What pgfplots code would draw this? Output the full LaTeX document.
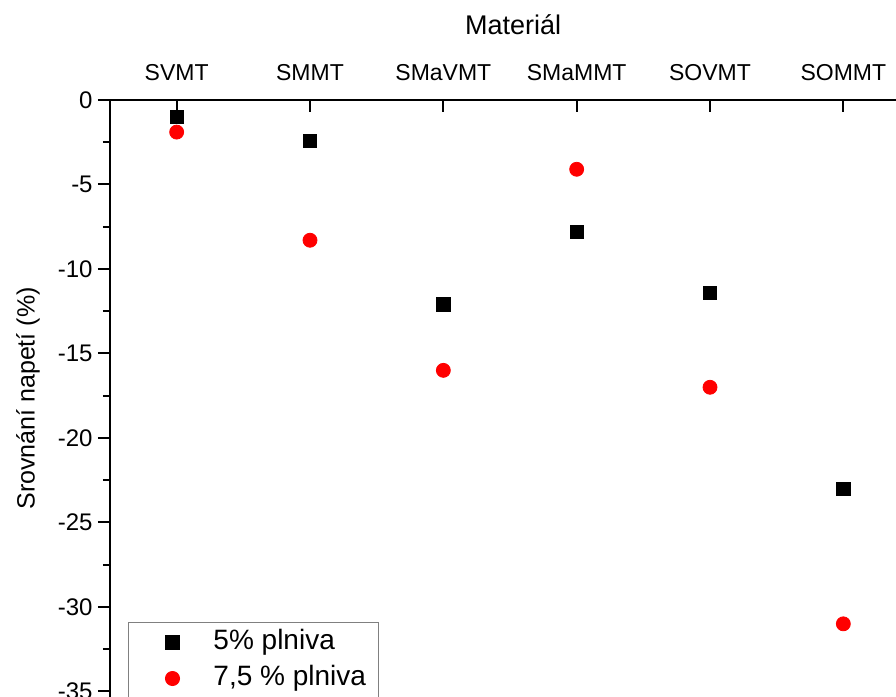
\documentclass[border=0pt]{standalone}
\usepackage{pgfplots}
\pgfplotsset{compat=1.18}
\usepackage{fontspec}
\setmainfont{Liberation Sans}
\begin{document}
\begin{tikzpicture}
\useasboundingbox (-55pt,0pt) rectangle (393pt,348.5pt);
\clip (-55pt,0pt) rectangle (393pt,348.5pt);
\begin{axis}[
  at={(0pt,0pt)}, anchor=south west,
  scale only axis, width=393pt, height=298.5pt,
  xmin=0.5, xmax=6.395, ymin=-35.33, ymax=0,
  axis x line=top, axis y line=left,
  axis line style={-, line width=1pt, black},
  tick align=outside,
  major tick length=6pt, minor tick length=3.5pt,
  every tick/.style={black, line width=1pt},
  x tick style={yshift=-6pt},
  xtick={1,2,3,4,5,6},
  xticklabels={SVMT,SMMT,SMaVMT,SMaMMT,SOVMT,SOMMT},
  xticklabel style={font=\fontsize{11.5}{13}\selectfont},
  ytick={-35,-30,-25,-20,-15,-10,-5,0},
  yticklabels={-35,-30,-25,-20,-15,-10,-5,0},
  minor y tick num=1,
  yticklabel style={font=\fontsize{12}{14}\selectfont, inner xsep=2.5pt},
  xlabel={Materiál},
  xlabel style={at={(axis description cs:0.513,1)}, anchor=center, yshift=37.5pt, font=\fontsize{13.5}{15}\selectfont},
  ylabel={Srovnání napetí (\%)},
  ylabel style={at={(axis description cs:-0.1043,0.5)}, anchor=center, font=\fontsize{12.5}{14}\selectfont},
  legend style={at={(axis description cs:0.0229,0.1256)}, anchor=north west,
    draw=gray, line width=0.5pt, inner xsep=6pt, inner ysep=1pt,
    column sep=4.5pt, row sep=0pt,
    font=\fontsize{14}{16}\selectfont,
    nodes={inner xsep=0pt, inner ysep=2.5pt, text height=10pt, text depth=3pt}},
  legend cell align=left,
  legend image code/.code={\path[draw=none] (0pt,0pt) -- (32pt,0pt);
    \path[mark repeat=2, mark phase=2, #1, draw=none] plot coordinates {(0pt,0pt) (16pt,0pt) (32pt,0pt)};},
]
\addplot[only marks, mark=square*, mark size=3.3pt, black, mark options={fill=black, draw=black}]
  coordinates {(1,-1.0) (2,-2.4) (3,-12.1) (4,-7.8) (5,-11.4) (6,-23.0)};
\addlegendentry{5\% plniva}
\addplot[only marks, mark=*, mark size=3.5pt, red, mark options={fill=red, draw=red}]
  coordinates {(1,-1.9) (2,-8.3) (3,-16.0) (4,-4.1) (5,-17.0) (6,-31.0)};
\addlegendentry{7,5 \% plniva}
\end{axis}
\end{tikzpicture}
\end{document}
